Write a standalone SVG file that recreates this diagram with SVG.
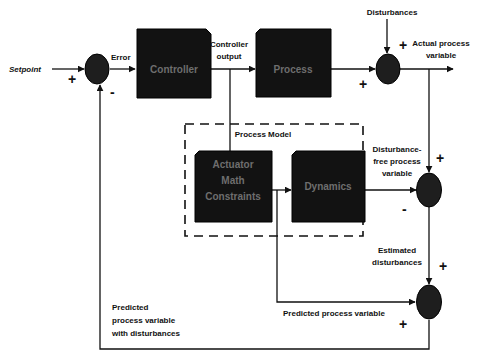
<svg xmlns="http://www.w3.org/2000/svg" width="483" height="353" viewBox="0 0 483 353">
<style>
.lbl{font-family:"Liberation Sans",Arial,sans-serif;font-weight:bold;font-size:8px;fill:#111}
.sgn{font-family:"Liberation Sans",Arial,sans-serif;font-weight:bold;font-size:14px;fill:#111}
.blk{fill:#121212;stroke:#000;stroke-width:1}
.btx{font-family:"Liberation Sans",Arial,sans-serif;font-weight:bold;font-size:10px;fill:#6e6e6e;text-anchor:middle}
.sum{fill:#1e1e1e;stroke:#000;stroke-width:1}
.ln{fill:none;stroke:#111;stroke-width:1.3}
.dash{fill:none;stroke:#111;stroke-width:1.6;stroke-dasharray:9,6}
</style>
<defs>
<marker id="ah" viewBox="0 0 10 10" refX="9" refY="5" markerWidth="7" markerHeight="7" orient="auto" markerUnits="userSpaceOnUse">
<path d="M0,0 L10,5 L0,10 z" fill="#111"/>
</marker>
</defs>
<g id="connectors">
<line class="ln" x1="52" y1="69" x2="84" y2="69" marker-end="url(#ah)"/>
<line class="ln" x1="110" y1="69" x2="135" y2="69" marker-end="url(#ah)"/>
<line class="ln" x1="211" y1="69" x2="255" y2="69" marker-end="url(#ah)"/>
<line class="ln" x1="230" y1="69" x2="230" y2="151"/>
<line class="ln" x1="331" y1="69" x2="375" y2="69" marker-end="url(#ah)"/>
<line class="ln" x1="387" y1="19" x2="387" y2="53" marker-end="url(#ah)"/>
<line class="ln" x1="400" y1="69" x2="453" y2="69" marker-end="url(#ah)"/>
<line class="ln" x1="429" y1="69" x2="429" y2="172" marker-end="url(#ah)"/>
<line class="ln" x1="272" y1="190" x2="291" y2="190" marker-end="url(#ah)"/>
<line class="ln" x1="365" y1="190" x2="416" y2="190" marker-end="url(#ah)"/>
<line class="ln" x1="429" y1="207" x2="429" y2="284" marker-end="url(#ah)"/>
<polyline class="ln" points="277,190 277,302 415,302" marker-end="url(#ah)"/>
<polyline class="ln" points="429,320 429,349 100,349 100,85" marker-end="url(#ah)"/>
</g>
<rect class="dash" x="185" y="124" width="178" height="112"/>
<g id="controller">
<path class="blk" d="M137,29 H206 L211,34 V98 H137 Z"/>
<text class="btx" x="174" y="73">Controller</text>
</g>
<g id="process">
<path class="blk" d="M260,29 H331 V97 H256 V33 Z"/>
<text class="btx" x="293" y="73">Process</text>
</g>
<g id="constraints">
<path class="blk" d="M199,151 H272 V222 H195 V155 Z"/>
<text class="btx" x="233" y="168">Actuator</text>
<text class="btx" x="233" y="184">Math</text>
<text class="btx" x="233" y="200">Constraints</text>
</g>
<g id="dynamics">
<path class="blk" d="M296,151 H365 V222 H292 V155 Z"/>
<text class="btx" x="328" y="190">Dynamics</text>
</g>
<g id="sum1"><ellipse class="sum" cx="97" cy="69" rx="12" ry="15"/></g>
<g id="sum2"><ellipse class="sum" cx="388" cy="69" rx="12" ry="15"/></g>
<g id="sum3"><ellipse class="sum" cx="429" cy="190" rx="12.5" ry="17"/></g>
<g id="sum4"><ellipse class="sum" cx="429" cy="302" rx="12.5" ry="17"/></g>
<g id="labels">
<text class="lbl" x="9" y="72" font-style="italic">Setpoint</text>
<text class="lbl" x="111" y="60">Error</text>
<text class="lbl" x="229" y="47" text-anchor="middle">Controller</text>
<text class="lbl" x="229" y="59" text-anchor="middle">output</text>
<text class="lbl" x="392" y="15" text-anchor="middle">Disturbances</text>
<text class="lbl" x="441" y="46" text-anchor="middle">Actual process</text>
<text class="lbl" x="441" y="58" text-anchor="middle">variable</text>
<text class="lbl" x="263" y="137" text-anchor="middle">Process Model</text>
<text class="lbl" x="397" y="152" text-anchor="middle">Disturbance-</text>
<text class="lbl" x="397" y="164" text-anchor="middle">free process</text>
<text class="lbl" x="397" y="176" text-anchor="middle">variable</text>
<text class="lbl" x="397" y="253" text-anchor="middle">Estimated</text>
<text class="lbl" x="397" y="265" text-anchor="middle">disturbances</text>
<text class="lbl" x="283" y="316">Predicted process variable</text>
<text class="lbl" x="112" y="310">Predicted</text>
<text class="lbl" x="112" y="323">process variable</text>
<text class="lbl" x="112" y="336">with disturbances</text>
<text class="sgn" x="68" y="84">+</text>
<text class="sgn" x="110" y="97">-</text>
<text class="sgn" x="399" y="50">+</text>
<text class="sgn" x="359" y="89">+</text>
<text class="sgn" x="436" y="163">+</text>
<text class="sgn" x="402" y="214">-</text>
<text class="sgn" x="439" y="271">+</text>
<text class="sgn" x="399" y="329">+</text>
</g>
</svg>
